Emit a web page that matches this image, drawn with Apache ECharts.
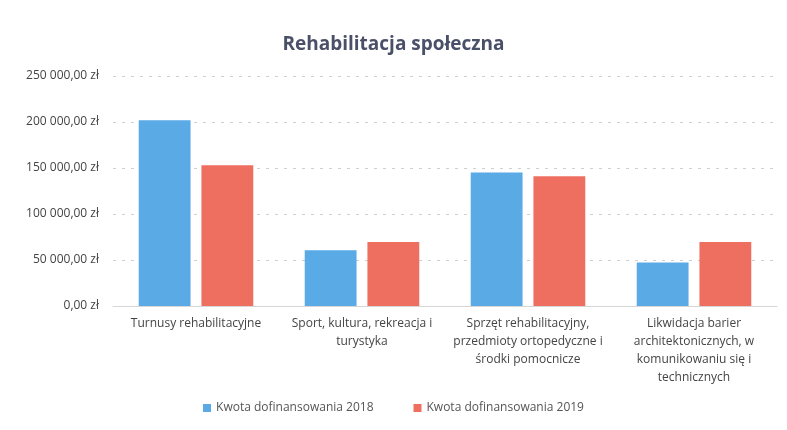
<!DOCTYPE html>
<html>
<head>
<meta charset="utf-8">
<script src="https://cdn.jsdelivr.net/npm/echarts@6/dist/echarts.min.js"></script>
<style>
  html, body { margin: 0; padding: 0; background: #fff; }
  #chart { width: 787px; height: 430px; }
</style>
</head>
<body>
<div id="chart"></div>
<script>
// dane
const categories = [
  'Turnusy rehabilitacyjne',
  'Sport, kultura, rekreacja i\nturystyka',
  'Sprzęt rehabilitacyjny,\nprzedmioty ortopedyczne i\nśrodki pomocnicze',
  'Likwidacja barier\narchitektonicznych, w\nkomunikowaniu się i\ntechnicznych'
];
const series2018 = [202000, 60500, 145000, 47200];
const series2019 = [153000, 69500, 141000, 69500];
const seriesNames = ['Kwota dofinansowania 2018', 'Kwota dofinansowania 2019'];

const fmtZl = (v) => {
  const parts = v.toFixed(2).split('.');
  const int = parts[0].replace(/\B(?=(\d{3})+(?!\d))/g, ' ');
  return int + ',' + parts[1] + ' zł';
};

const chart = echarts.init(document.getElementById('chart'));

chart.setOption({
  backgroundColor: '#fff',
  animation: false,
  textStyle: { fontFamily: 'Open Sans, sans-serif' },
  title: {
    text: 'Rehabilitacja społeczna',
    left: 'center',
    top: 30,
    textStyle: { fontSize: 19, fontWeight: 'bold', color: '#4a5068' }
  },
  legend: {
    data: seriesNames,
    bottom: 11,
    left: 'center',
    itemWidth: 8,
    itemHeight: 8,
    itemGap: 40,
    icon: 'rect',
    textStyle: { fontSize: 12, color: '#555' }
  },
  grid: { left: 113, right: 10, top: 76, bottom: 124 },
  xAxis: {
    type: 'category',
    data: categories,
    axisTick: { show: false },
    axisLine: { lineStyle: { color: '#d6d6d6' } },
    axisLabel: {
      color: '#444',
      fontSize: 12,
      lineHeight: 18,
      margin: 9,
      interval: 0
    }
  },
  yAxis: {
    type: 'value',
    min: 0,
    max: 250000,
    interval: 50000,
    axisLine: { show: false },
    axisTick: { show: false },
    axisLabel: { color: '#444', fontSize: 12, margin: 14, formatter: fmtZl },
    splitLine: { lineStyle: { color: '#cfcfcf', type: [3, 6] } }
  },
  series: [
    {
      name: seriesNames[0],
      type: 'bar',
      data: series2018,
      barGap: '21%',
      barCategoryGap: '31%',
      itemStyle: { color: '#5aaae6' }
    },
    {
      name: seriesNames[1],
      type: 'bar',
      data: series2019,
      itemStyle: { color: '#ee6e60' }
    }
  ]
});
</script>
</body>
</html>
